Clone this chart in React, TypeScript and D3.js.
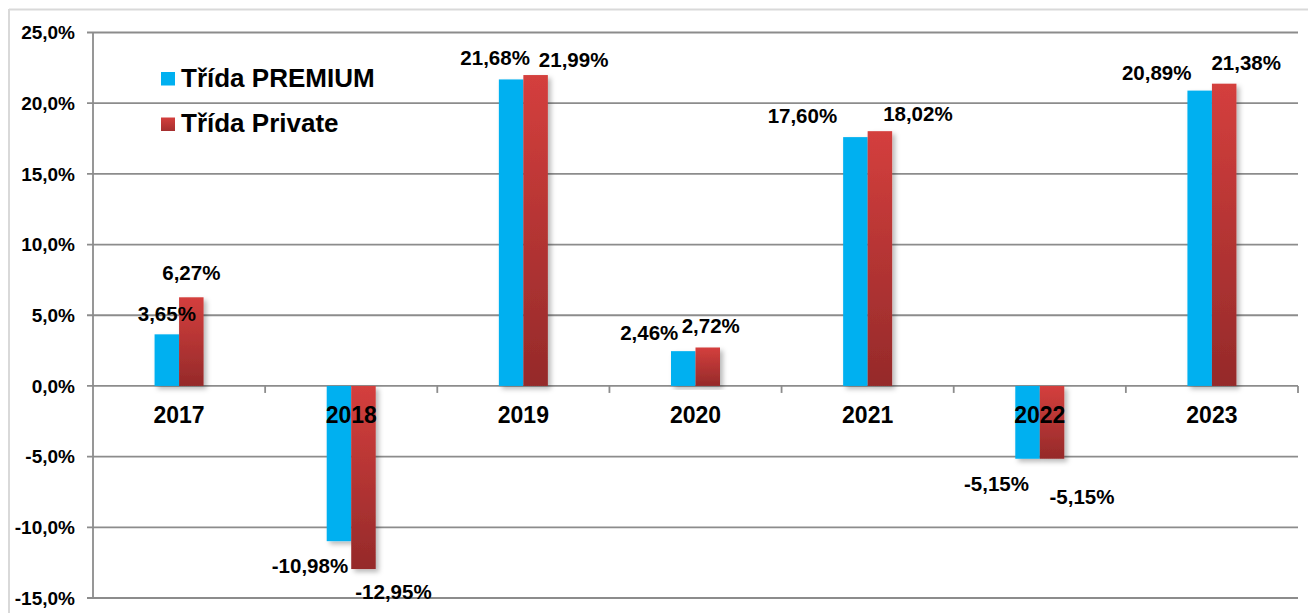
import React from "react";
import * as d3 from "d3";

const years = ["2017", "2018", "2019", "2020", "2021", "2022", "2023"];
const premium = [3.65, -10.98, 21.68, 2.46, 17.6, -5.15, 20.89];
const privateCls = [6.27, -12.95, 21.99, 2.72, 18.02, -5.15, 21.38];
const seriesNames = ["Třída PREMIUM", "Třída Private"];
const yTicks = [25, 20, 15, 10, 5, 0, -5, -10, -15];

// manual label nudges (px) relative to bar center / bar end, as in the original
const premiumLabelDx = [0, -29, -16, -34, -53, -31, -43];
const premiumLabelDy = [-21, 25, -22, -18, -21, 25, -18];
const privateLabelDx = [0, 30, 38, 3, 38, 30, 22];
const privateLabelDy = [-24, 23, -15, -22, -17, 38, -21];

const W = 1308;
const H = 613;
const FONT = "'Liberation Sans', Arial, Helvetica, sans-serif";
const fmtPct = (v: number) => v.toFixed(2).replace(".", ",") + "%";
const fmtTick = (v: number) => v.toFixed(1).replace(".", ",") + "%";

export default function App() {
  const left = 93;
  const right = 1298;
  const y = d3.scaleLinear().domain([-15, 25]).range([598, 32.5]);
  const x = d3.scaleBand<string>().domain(years).range([left, right]).padding(0);
  const barW = 24.5;
  const inner = d3.scaleBand<number>().domain([0, 1]).range([-barW, barW]).padding(0);
  const y0 = y(0);
  const blue = "#00b0f0";
  const series = [premium, privateCls];
  const dxs = [premiumLabelDx, privateLabelDx];
  const dys = [premiumLabelDy, privateLabelDy];

  return (
    <svg
      width={W}
      height={H}
      style={{ position: "absolute", left: 0, top: 0, background: "#fff" }}
      fontFamily={FONT}
    >
      <defs>
        <linearGradient id="redGrad" x1="0" y1="0" x2="0" y2="1">
          <stop offset="0%" stopColor="#d43f3d" />
          <stop offset="100%" stopColor="#952a2a" />
        </linearGradient>
        <linearGradient id="redGradLeg" x1="0" y1="0" x2="0" y2="1">
          <stop offset="0%" stopColor="#d43f3d" />
          <stop offset="100%" stopColor="#a52f2f" />
        </linearGradient>
        <filter id="shadow" x="-30%" y="-10%" width="160%" height="120%">
          <feDropShadow dx="3" dy="3" stdDeviation="2.5" floodColor="#000" floodOpacity="0.28" />
        </filter>
      </defs>
      {/* frame */}
      <line x1={9} y1={9.5} x2={W} y2={9.5} stroke="#d9d9d9" strokeWidth={2} />
      <line x1={9} y1={9} x2={9} y2={H} stroke="#d9d9d9" strokeWidth={2} />

      {/* gridlines */}
      {yTicks.map((t) => (
        <g key={t}>
          <line x1={left - 6} x2={right} y1={y(t)} y2={y(t)} stroke="#8c8c8c" strokeWidth={1.8} />
          <text
            x={75}
            y={y(t)}
            dy="0.35em"
            textAnchor="end"
            fontSize={19}
            fontWeight="bold"
            fill="#000"
          >
            {fmtTick(t)}
          </text>
        </g>
      ))}
      {/* y axis line */}
      <line x1={left} x2={left} y1={y(25)} y2={y(-15)} stroke="#8c8c8c" strokeWidth={1.8} />
      {/* x tick marks */}
      {years.map((yr, i) => (
        <line
          key={"t" + yr}
          x1={(x(yr) as number) + x.bandwidth()}
          x2={(x(yr) as number) + x.bandwidth()}
          y1={y0}
          y2={y0 + 7}
          stroke="#8c8c8c"
          strokeWidth={1.8}
        />
      ))}

      {/* bars */}
      {years.map((yr, i) => {
        const cx = (x(yr) as number) + x.bandwidth() / 2;
        return (
          <g key={"b" + yr} filter="url(#shadow)">
            {series.map((s, si) => {
              const v = s[i];
              const bx = cx + (inner(si) as number);
              const top = Math.min(y(v), y0);
              const h = Math.abs(y(v) - y0);
              return (
                <rect
                  key={si}
                  x={bx}
                  y={top}
                  width={inner.bandwidth()}
                  height={h}
                  fill={si === 0 ? blue : "url(#redGrad)"}
                />
              );
            })}
          </g>
        );
      })}

      {/* category labels */}
      {years.map((yr) => (
        <text
          key={"c" + yr}
          x={(x(yr) as number) + x.bandwidth() / 2}
          y={423}
          textAnchor="middle"
          fontSize={23}
          fontWeight="bold"
          fill="#000"
        >
          {yr}
        </text>
      ))}

      {/* data labels */}
      {years.map((yr, i) => {
        const cx = (x(yr) as number) + x.bandwidth() / 2;
        return series.map((s, si) => {
          const v = s[i];
          const bc = cx + (inner(si) as number) + inner.bandwidth() / 2;
          return (
            <text
              key={"l" + yr + si}
              x={bc + dxs[si][i]}
              y={y(v) + dys[si][i]}
              dy="0.35em"
              textAnchor="middle"
              fontSize={20.5}
              fontWeight="bold"
              fill="#000"
            >
              {fmtPct(v)}
            </text>
          );
        });
      })}

      {/* legend */}
      {seriesNames.map((n, i) => (
        <g key={n} transform={`translate(161, ${72 + i * 45.5})`}>
          <rect x={0} y={0} width={14} height={13.5} fill={i === 0 ? blue : "url(#redGradLeg)"} />
          <text x={20} y={14.5} fontSize={26} fontWeight="bold" fill="#000">
            {n}
          </text>
        </g>
      ))}
    </svg>
  );
}
